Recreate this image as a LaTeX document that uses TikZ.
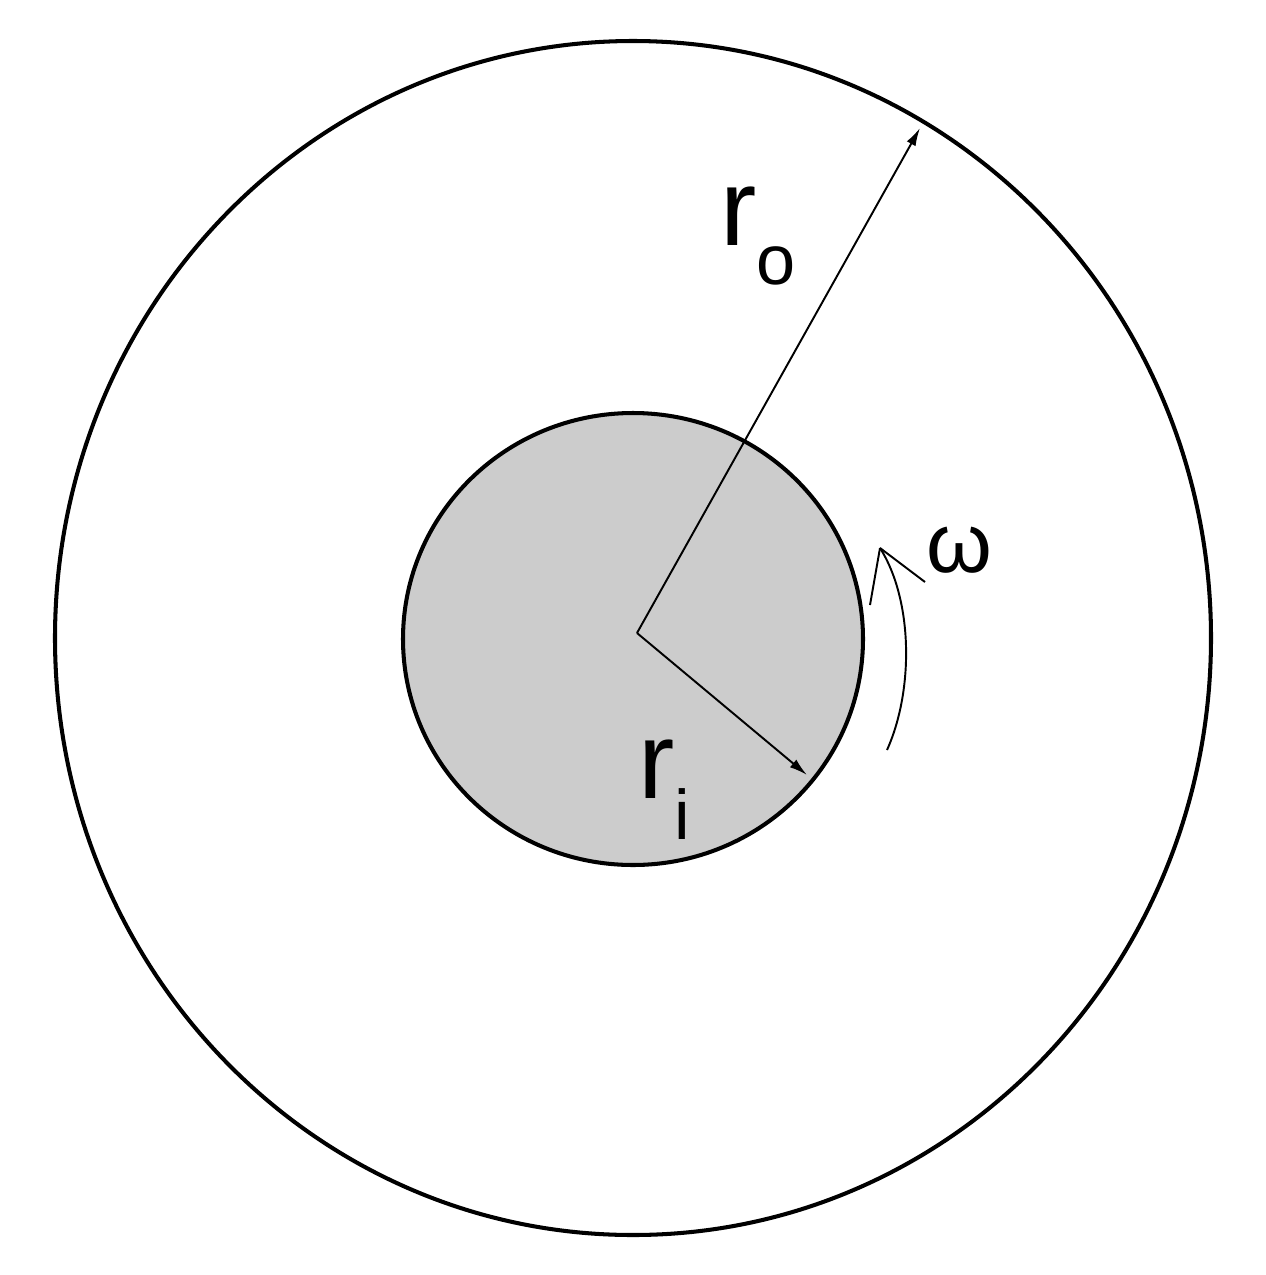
\documentclass[tikz,border=0pt]{standalone}
\usepackage{fontspec}
\setmainfont{Liberation Sans}
\usetikzlibrary{arrows.meta}
\definecolor{shaftgray}{RGB}{204,204,204}
\begin{document}
\begin{tikzpicture}[x=0.02cm,y=-0.02cm,
  rim/.style={line width=2.3pt,black},
  dim/.style={line width=1.1pt,-{Latex[length=0.36cm,width=0.2cm]}},
  spin/.style={line width=1.1pt},
  lbl/.style={inner sep=0pt,anchor=base west,font=\fontsize{62}{70}\selectfont}]
\useasboundingbox (0,0) rectangle (1266,1275);
% outer cylinder
\draw[rim] (633,638) ellipse [x radius=578, y radius=597];
% inner cylinder
\draw[rim,fill=shaftgray] (633,639) ellipse [x radius=230, y radius=226];
% radii
\coordinate (c) at (637,633);
\coordinate (po) at (920,128);
\coordinate (pi) at (807,775);
\draw[dim] (c) -- (po);
\draw[dim] (c) -- (pi);
% rotation arrow
\coordinate (wb) at (887,750);
\coordinate (wt) at (880,548);
\draw[spin] (wb) .. controls (914,690) and (913,600) .. (wt);
\draw[spin] (wt) -- (870,605);
\draw[spin] (wt) -- (925,582);
% labels
\node[lbl] (lro) at (720,245) {r\raisebox{-22.7pt}{\fontsize{40}{44}\selectfont o}};
\node[lbl] (lri) at (638,798) {r\raisebox{-23.8pt}{\fontsize{40}{44}\selectfont i}};
\node[lbl,font=\fontsize{48}{54}\selectfont] (lw) at (926,572) {ω};
\end{tikzpicture}
\end{document}
